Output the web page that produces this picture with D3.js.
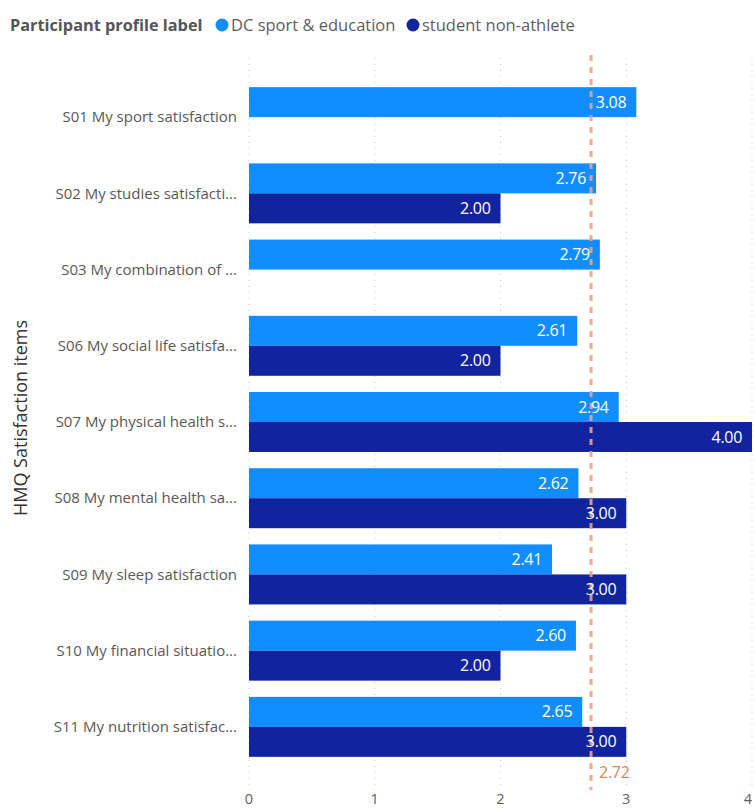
<!DOCTYPE html>
<html><head><meta charset="utf-8">
<script src="https://cdn.jsdelivr.net/npm/d3@7"></script>
<style>body{margin:0;background:#fff;} svg{display:block;font-family:"Open Sans","Noto Sans",sans-serif;}</style>
</head><body>
<script>
const categories = ["S01 My sport satisfaction","S02 My studies satisfacti...","S03 My combination of ...","S06 My social life satisfa...","S07 My physical health s...","S08 My mental health sa...","S09 My sleep satisfaction","S10 My financial situatio...","S11 My nutrition satisfac..."];
const seriesNames = ["DC sport & education","student non-athlete"];
const dcValues = [3.08,2.76,2.79,2.61,2.94,2.62,2.41,2.60,2.65];
const studentValues = [null,2.00,null,2.00,4.00,3.00,3.00,2.00,3.00];
const xTicks = [0,1,2,3,4];
const refValue = 2.72;
const colors = ["#118DFF","#12239E"];

const W=755,H=809;
const svg=d3.select("body").append("svg").attr("width",W).attr("height",H);
const x=d3.scaleLinear().domain([0,4]).range([249,752]);
const y=d3.scaleBand().domain(categories).range([79,765]).paddingInner(0.213).paddingOuter(0.107);
const sub=d3.scaleBand().domain([0,1]).range([0,y.bandwidth()]);

// gridlines
svg.append("g").selectAll("line").data(xTicks).join("line")
  .attr("x1",d=>x(d)).attr("x2",d=>x(d)).attr("y1",58).attr("y2",790)
  .attr("stroke","#c8c8c8").attr("stroke-width",1).attr("stroke-dasharray","1,5");

// x tick labels
svg.append("g").selectAll("text").data(xTicks).join("text")
  .attr("x",d=>x(d)).attr("y",804).attr("text-anchor",d=>d===4?"end":"middle")
  .attr("font-size",14.5).attr("fill","#605E5C").text(d=>d);

// bars
const data=[];
categories.forEach((c,i)=>{
  if(dcValues[i]!=null) data.push({c,s:0,v:dcValues[i]});
  if(studentValues[i]!=null) data.push({c,s:1,v:studentValues[i]});
});
svg.append("g").selectAll("rect").data(data).join("rect")
  .attr("x",x(0)).attr("y",d=>y(d.c)+sub(d.s)).attr("width",d=>x(d.v)-x(0)).attr("height",sub.bandwidth())
  .attr("fill",d=>colors[d.s]);

// reference line
svg.append("line").attr("x1",x(refValue)).attr("x2",x(refValue)).attr("y1",55).attr("y2",790)
  .attr("stroke","#F0A084").attr("stroke-width",3).attr("stroke-dasharray","6,6").attr("opacity",0.9);
svg.append("text").attr("x",x(refValue)+8).attr("y",778).attr("font-size",16).attr("letter-spacing",-0.3).attr("fill","#E8825C").text(refValue.toFixed(2));

// value labels
svg.append("g").selectAll("text").data(data).join("text")
  .attr("x",d=>x(d.v)-10).attr("y",d=>y(d.c)+sub(d.s)+sub.bandwidth()/2).attr("dy","0.35em")
  .attr("text-anchor","end").attr("font-size",16).attr("fill","#fff").attr("letter-spacing",-0.3).text(d=>d.v.toFixed(2));

// category labels
svg.append("g").selectAll("text").data(categories).join("text")
  .attr("x",237).attr("y",d=>y(d)+y.bandwidth()/2).attr("dy","0.35em").attr("text-anchor","end")
  .attr("font-size",15).attr("fill","#5a5856").text(d=>d);

// axis title
svg.append("text").attr("transform","translate(27,418) rotate(-90)").attr("text-anchor","middle")
  .attr("font-size",18).attr("fill","#333").text("HMQ Satisfaction items");

// legend
const lg=svg.append("g");
lg.append("text").attr("x",10).attr("y",31).attr("font-size",16.3).attr("font-weight","bold").attr("fill","#555").text("Participant profile label");
const lx=[222,413];
seriesNames.forEach((n,i)=>{
  lg.append("circle").attr("cx",lx[i]).attr("cy",25).attr("r",6.5).attr("fill",colors[i]);
  lg.append("text").attr("x",lx[i]+9).attr("y",31).attr("font-size",16.5).attr("fill","#605E5C").text(n);
});
</script>
</body></html>
